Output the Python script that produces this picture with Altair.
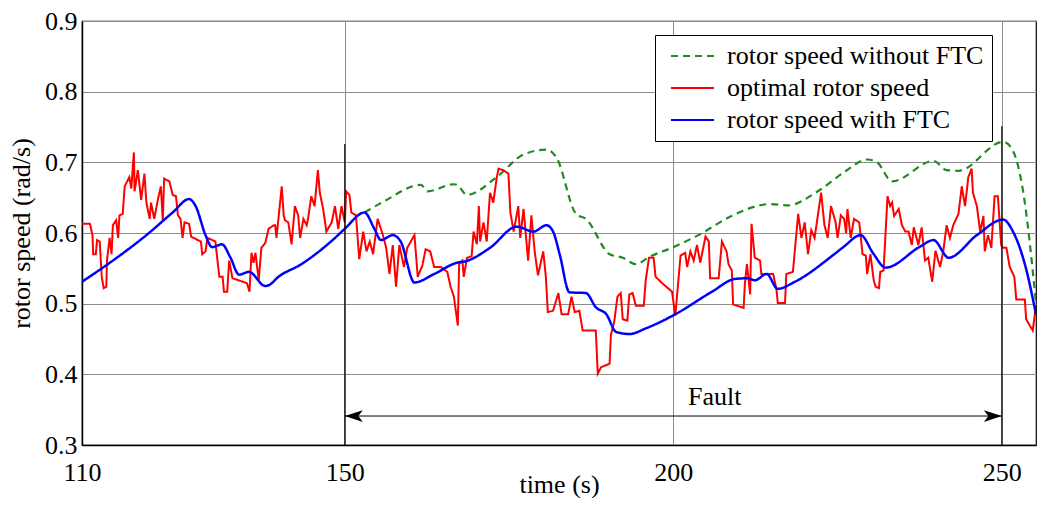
import altair as alt
import pandas as pd

series_names = ["rotor speed without FTC", "optimal rotor speed", "rotor speed with FTC"]
series_colors = ["#1E8C1E", "#FF0000", "#0000FF"]

x_ticks = [110, 150, 200, 250]
y_ticks = [0.3, 0.4, 0.5, 0.6, 0.7, 0.8, 0.9]

blue_x = [110.0, 114.7, 119.8, 123.8, 126.3, 127.3, 128.8, 129.8, 131.3, 132.6, 133.9, 135.4, 137.9, 138.4,
          139.9, 143.4, 148.5, 150.0, 153.0, 154.5, 155.5, 157.3, 158.5, 160.6, 163.6, 167.1, 168.4, 172.1,
          176.2, 178.7, 180.7, 181.7, 182.7, 184.2, 186.7, 188.2, 189.8, 191.3, 193.3, 195.8, 200.3, 205.9,
          209.4, 211.4, 212.4, 214.2, 215.9, 218.5, 224.5, 226.0, 228.5, 230.5, 232.3, 237.6, 239.6, 241.9,
          246.2, 250.2, 251.7, 253.5, 255.2]
blue_y = [0.531, 0.561, 0.597, 0.629, 0.648, 0.638, 0.597, 0.580, 0.584, 0.565, 0.541, 0.545, 0.525, 0.526,
          0.538, 0.556, 0.593, 0.606, 0.629, 0.606, 0.590, 0.597, 0.588, 0.530, 0.542, 0.558, 0.560, 0.579,
          0.609, 0.602, 0.611, 0.602, 0.570, 0.516, 0.515, 0.495, 0.485, 0.460, 0.457, 0.465, 0.485, 0.517,
          0.535, 0.536, 0.533, 0.542, 0.521, 0.531, 0.570, 0.581, 0.597, 0.570, 0.551, 0.581, 0.590, 0.565,
          0.597, 0.619, 0.602, 0.556, 0.485]

green_x = [153.0, 156.0, 161.6, 162.6, 166.6, 167.1, 168.6, 173.1, 177.2, 180.7, 182.2, 185.2, 186.7,
           190.3, 192.3, 194.3, 196.3, 200.0, 204.4, 208.4, 214.9, 217.4, 222.0, 226.0, 229.5, 231.0,
           233.3, 239.6, 241.6, 243.4, 250.2, 251.7, 253.2, 255.2]
green_y = [0.629, 0.645, 0.668, 0.659, 0.669, 0.668, 0.654, 0.679, 0.711, 0.718, 0.707, 0.627, 0.620,
           0.570, 0.565, 0.556, 0.566, 0.580, 0.600, 0.622, 0.641, 0.639, 0.659, 0.686, 0.704, 0.700,
           0.673, 0.702, 0.689, 0.688, 0.729, 0.716, 0.661, 0.501]

red_x = [110.0, 111.2, 111.6, 111.7, 112.1, 112.3, 112.7, 113.0, 113.3, 113.7, 113.8, 114.2, 114.5, 114.7,
         115.2, 115.5, 115.7, 116.2, 116.5, 117.2, 117.5, 117.9, 118.0, 118.5, 119.0, 119.5, 119.8, 120.3,
         120.5, 121.0, 121.5, 122.0, 122.3, 122.5, 123.3, 123.8, 124.3, 124.6, 125.0, 125.3, 125.6, 126.3,
         126.6, 127.6, 128.1, 128.3, 128.8, 129.1, 130.3, 130.9, 131.4, 131.6, 132.1, 132.4, 132.9, 135.1,
         135.5, 135.8, 136.1, 136.4, 136.9, 137.3, 137.9, 138.4, 139.2, 139.4, 139.6, 140.4, 140.7, 140.9,
         141.4, 141.9, 142.4, 142.9, 143.2, 143.7, 144.2, 144.4, 144.9, 145.4, 145.9, 146.2, 146.7, 147.2,
         148.0, 148.5, 149.0, 149.5, 150.0, 150.2, 150.7, 151.0, 151.7, 152.2, 152.8, 153.3, 153.8, 154.3,
         155.0, 155.8, 156.3, 156.8, 157.3, 157.8, 158.3, 159.0, 159.5, 160.6, 161.1, 161.8, 162.3, 163.0,
         163.6, 164.6, 165.6, 166.1, 166.6, 167.2, 167.4, 167.9, 168.1, 168.6, 169.3, 169.6, 170.1, 170.4,
         170.6, 171.1, 171.6, 172.1, 172.6, 173.1, 173.4, 174.1, 174.9, 175.2, 175.7, 176.4, 176.7, 177.2,
         177.9, 178.4, 178.9, 179.4, 180.2, 180.6, 180.9, 181.7, 182.5, 183.0, 184.0, 184.5, 185.0, 185.7,
         186.2, 188.2, 188.5, 189.0, 190.3, 190.5, 191.0, 191.5, 192.0, 192.3, 193.0, 193.3, 193.8, 194.3,
         195.5, 195.8, 196.3, 197.0, 197.3, 198.3, 199.8, 200.3, 200.6, 201.1, 201.8, 202.1, 202.6, 203.1,
         203.6, 204.1, 204.9, 205.4, 205.6, 206.9, 207.4, 208.1, 208.4, 208.9, 209.1, 210.7, 210.9, 211.2,
         211.7, 211.9, 212.4, 213.2, 213.4, 215.2, 215.7, 215.9, 217.0, 217.2, 218.2, 219.0, 219.5, 220.0,
         220.5, 221.0, 221.5, 222.0, 222.5, 223.0, 223.5, 224.0, 224.7, 225.0, 225.5, 226.0, 226.3, 226.5,
         227.0, 227.5, 228.3, 228.8, 229.3, 229.5, 230.0, 230.5, 230.8, 231.3, 231.5, 232.0, 232.6, 233.0,
         233.3, 233.6, 234.3, 234.8, 235.3, 235.8, 236.3, 236.6, 237.3, 237.8, 238.3, 238.8, 239.4, 239.9,
         240.6, 241.1, 241.6, 242.1, 242.6, 243.4, 243.9, 244.4, 244.9, 245.4, 245.6, 246.2, 246.7, 247.2,
         247.4, 247.9, 248.4, 248.9, 249.4, 249.9, 250.2, 250.7, 251.2, 251.9, 252.2, 253.5, 253.7, 254.7,
         255.2]
red_y = [0.613, 0.613, 0.597, 0.570, 0.570, 0.590, 0.588, 0.538, 0.522, 0.524, 0.561, 0.593, 0.570, 0.611,
         0.618, 0.593, 0.625, 0.627, 0.666, 0.679, 0.663, 0.714, 0.659, 0.689, 0.647, 0.684, 0.643, 0.620,
         0.643, 0.620, 0.645, 0.666, 0.618, 0.677, 0.673, 0.654, 0.652, 0.625, 0.620, 0.593, 0.615, 0.613,
         0.595, 0.590, 0.588, 0.570, 0.574, 0.593, 0.588, 0.538, 0.538, 0.517, 0.517, 0.561, 0.536, 0.529,
         0.517, 0.572, 0.558, 0.572, 0.533, 0.579, 0.586, 0.606, 0.611, 0.611, 0.593, 0.666, 0.625, 0.618,
         0.615, 0.584, 0.638, 0.625, 0.593, 0.620, 0.611, 0.620, 0.652, 0.638, 0.689, 0.657, 0.634, 0.602,
         0.615, 0.638, 0.606, 0.638, 0.615, 0.659, 0.654, 0.629, 0.625, 0.563, 0.602, 0.574, 0.588, 0.570,
         0.620, 0.597, 0.579, 0.542, 0.583, 0.524, 0.583, 0.552, 0.579, 0.597, 0.538, 0.554, 0.577, 0.574,
         0.552, 0.552, 0.545, 0.524, 0.510, 0.469, 0.556, 0.561, 0.538, 0.565, 0.567, 0.602, 0.584, 0.638,
         0.588, 0.615, 0.588, 0.657, 0.643, 0.677, 0.691, 0.689, 0.684, 0.629, 0.602, 0.638, 0.593, 0.634,
         0.561, 0.625, 0.574, 0.540, 0.574, 0.538, 0.488, 0.490, 0.515, 0.485, 0.485, 0.510, 0.488, 0.490,
         0.462, 0.462, 0.401, 0.410, 0.415, 0.456, 0.474, 0.510, 0.515, 0.478, 0.476, 0.513, 0.515, 0.497,
         0.497, 0.533, 0.565, 0.565, 0.538, 0.529, 0.517, 0.483, 0.515, 0.568, 0.572, 0.552, 0.574, 0.561,
         0.583, 0.558, 0.595, 0.588, 0.536, 0.536, 0.588, 0.574, 0.556, 0.547, 0.499, 0.494, 0.529, 0.556,
         0.513, 0.613, 0.565, 0.561, 0.542, 0.542, 0.520, 0.501, 0.501, 0.542, 0.545, 0.627, 0.593, 0.615,
         0.570, 0.604, 0.593, 0.625, 0.657, 0.611, 0.593, 0.638, 0.615, 0.593, 0.625, 0.620, 0.600, 0.634,
         0.593, 0.620, 0.615, 0.570, 0.568, 0.542, 0.570, 0.533, 0.524, 0.522, 0.545, 0.547, 0.652, 0.638,
         0.643, 0.624, 0.634, 0.611, 0.602, 0.602, 0.583, 0.608, 0.583, 0.608, 0.561, 0.565, 0.531, 0.575,
         0.552, 0.575, 0.611, 0.593, 0.611, 0.627, 0.666, 0.638, 0.679, 0.691, 0.657, 0.638, 0.602, 0.624,
         0.574, 0.597, 0.579, 0.652, 0.652, 0.583, 0.579, 0.579, 0.552, 0.538, 0.506, 0.506, 0.478, 0.462,
         0.497]

# Fault annotation (data coordinates)
fault_start = 150
fault_end = 250
fault_arrow_y = 0.341
fault_line_tops = [0.726, 0.751]
fault_label = "Fault"
fault_label_x = 206.3
fault_label_y = 0.357

FONT = "Liberation Serif, Times New Roman, Times, serif"

rows = []
for name, xs, ys in zip(series_names, [green_x, red_x, blue_x], [green_y, red_y, blue_y]):
    for i, (xv, yv) in enumerate(zip(xs, ys)):
        rows.append({"series": name, "t": xv, "w": yv, "i": i})
df = pd.DataFrame(rows)

x_scale = alt.Scale(domain=[110, 255.2], nice=False, zero=False)
y_scale = alt.Scale(domain=[0.3, 0.9], nice=False, zero=False)

x_axis = alt.Axis(values=x_ticks, title="time (s)", labelFlush=False, labelOverlap=False,
                  labelPadding=14, titleY=47, titleBaseline="alphabetic")
y_axis = alt.Axis(values=y_ticks, format=".1f", title="rotor speed (rad/s)", labelOverlap=False,
                  labelPadding=5, titlePadding=10)

legend_kw = dict(title=None, orient="none", legendX=573, legendY=14, strokeColor="black",
                 fillColor="white", padding=8, symbolType="M-1,0H7.6", symbolSize=100,
                 symbolStrokeWidth=2, labelFont=FONT, labelFontSize=26, labelOffset=38,
                 labelLimit=400, rowPadding=6, labelColor="black")

color_enc = alt.Color("series:N", scale=alt.Scale(domain=series_names, range=series_colors),
                      legend=alt.Legend(**legend_kw))
dash_enc = alt.StrokeDash("series:N",
                          scale=alt.Scale(domain=series_names, range=[[7, 5], [1, 0], [1, 0]]),
                          legend=alt.Legend(**legend_kw))

base = alt.Chart(df).encode(
    x=alt.X("t:Q", scale=x_scale, axis=x_axis),
    y=alt.Y("w:Q", scale=y_scale, axis=y_axis),
    color=color_enc,
    strokeDash=dash_enc,
    order=alt.Order("i:Q"),
)

widths = {series_names[0]: 2.2, series_names[1]: 2.0, series_names[2]: 2.5}
interp = {series_names[0]: "monotone", series_names[1]: "linear", series_names[2]: "monotone"}
line_layers = [
    base.transform_filter(alt.datum.series == name).mark_line(
        strokeWidth=widths[name], interpolate=interp[name], clip=True)
    for name in series_names
]

vl_df = pd.DataFrame({"t": [fault_start, fault_end], "lo": [0.3, 0.3], "hi": fault_line_tops})
vlines = alt.Chart(vl_df).mark_rule(color="black", strokeWidth=1.2).encode(
    x=alt.X("t:Q", scale=x_scale), y=alt.Y("lo:Q", scale=y_scale), y2="hi:Q")

arr_df = pd.DataFrame({"a": [fault_start], "b": [fault_end], "w": [fault_arrow_y]})
arrow_line = alt.Chart(arr_df).mark_rule(color="black", strokeWidth=1).encode(
    x=alt.X("a:Q", scale=x_scale), x2="b:Q", y=alt.Y("w:Q", scale=y_scale))
head_l = alt.Chart(arr_df).mark_point(shape="M0,0L2,-0.65L1.5,0L2,0.65Z", size=324, filled=True,
                                      color="black", opacity=1).encode(
    x=alt.X("a:Q", scale=x_scale), y=alt.Y("w:Q", scale=y_scale))
head_r = alt.Chart(arr_df).mark_point(shape="M0,0L-2,-0.65L-1.5,0L-2,0.65Z", size=324, filled=True,
                                      color="black", opacity=1).encode(
    x=alt.X("b:Q", scale=x_scale), y=alt.Y("w:Q", scale=y_scale))

txt_df = pd.DataFrame({"t": [fault_label_x], "w": [fault_label_y], "s": [fault_label]})
fault_text = alt.Chart(txt_df).mark_text(font=FONT, fontSize=26, color="black", align="center",
                                         baseline="alphabetic").encode(
    x=alt.X("t:Q", scale=x_scale), y=alt.Y("w:Q", scale=y_scale), text="s:N")

chart = alt.layer(*line_layers, vlines, arrow_line, head_l, head_r, fault_text).properties(
    width=954, height=424,
    autosize=alt.AutoSizeParams(type="none"),
    padding={"left": 74, "top": 13, "right": 2, "bottom": 53},
    background="white",
).configure_view(stroke="black", strokeWidth=1.2).configure_axis(
    labelFont=FONT, labelFontSize=26, labelColor="black",
    titleFont=FONT, titleFontSize=26, titleFontWeight="normal", titleColor="black",
    gridColor="#8c8c8c", gridWidth=1, gridOpacity=1,
    domainColor="black", domainWidth=1.5, ticks=False,
)

chart.save("out.html", embed_options={"renderer": "svg", "actions": False})
